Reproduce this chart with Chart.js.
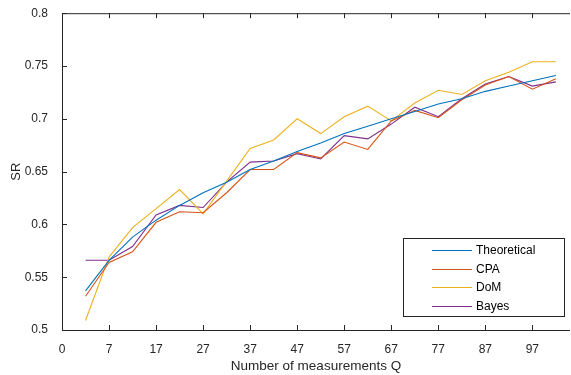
<!DOCTYPE html>
<html>
<head>
<meta charset="utf-8">
<script src="https://cdn.jsdelivr.net/npm/chart.js@4/dist/chart.umd.min.js"></script>
<style>
  html, body { margin: 0; padding: 0; background: #fff; }
  #wrap { width: 571px; height: 375px; }
</style>
</head>
<body>
<div id="wrap"><canvas id="srChart" width="571" height="375"></canvas></div>
<script>
// measurement positions (axis units) and their tick labels
const qValues = [5, 10, 15, 20, 25, 30, 35, 40, 45, 50, 55, 60, 65, 70, 75, 80, 85, 90, 95, 100, 105];
const xTickLabels = ['0', '7', '17', '27', '37', '47', '57', '67', '77', '87', '97'];
const yTickLabels = ['0.5', '0.55', '0.6', '0.65', '0.7', '0.75', '0.8'];

const theoretical = [0.537, 0.566, 0.588, 0.604, 0.618, 0.630, 0.640, 0.652, 0.660, 0.669, 0.677, 0.686, 0.693, 0.700, 0.707, 0.714, 0.719, 0.726, 0.731, 0.736, 0.741];
const cpa         = [0.532, 0.564, 0.574, 0.602, 0.612, 0.611, 0.630, 0.652, 0.652, 0.668, 0.663, 0.678, 0.671, 0.698, 0.708, 0.701, 0.718, 0.732, 0.740, 0.728, 0.738];
const dom         = [0.509, 0.569, 0.597, 0.615, 0.633, 0.610, 0.641, 0.672, 0.680, 0.700, 0.686, 0.702, 0.712, 0.698, 0.715, 0.727, 0.723, 0.736, 0.744, 0.754, 0.754];
const bayes       = [0.566, 0.566, 0.579, 0.609, 0.618, 0.616, 0.640, 0.659, 0.660, 0.667, 0.662, 0.684, 0.681, 0.695, 0.711, 0.702, 0.719, 0.733, 0.740, 0.731, 0.735];

const seriesNames = ['Theoretical', 'CPA', 'DoM', 'Bayes'];
const seriesColors = ['#0072BD', '#D95319', '#EDB120', '#7E2F8E'];
const seriesData = [theoretical, cpa, dom, bayes];

const AXIS_COLOR = '#262626';
const FONT = 'Liberation Sans, Arial, sans-serif';

// box, inward ticks and legend in the MATLAB style
const matlabAxes = {
    id: 'matlabAxes',
    afterDatasetsDraw(chart) {
        const { ctx, chartArea: a, scales } = chart;
        const tick = 5;
        ctx.save();
        ctx.strokeStyle = AXIS_COLOR;
        ctx.lineWidth = 1;
        ctx.beginPath();
        ctx.moveTo(a.right, a.top + 0.5);
        ctx.lineTo(a.left + 0.5, a.top + 0.5);
        ctx.lineTo(a.left + 0.5, a.bottom + 0.5);
        ctx.lineTo(a.right, a.bottom + 0.5);
        scales.x.ticks.forEach(t => {
            const px = Math.round(scales.x.getPixelForValue(t.value)) + 0.5;
            ctx.moveTo(px, a.bottom);
            ctx.lineTo(px, a.bottom - tick);
            ctx.moveTo(px, a.top);
            ctx.lineTo(px, a.top + tick);
        });
        scales.y.ticks.forEach(t => {
            const py = Math.round(scales.y.getPixelForValue(t.value)) + 0.5;
            ctx.moveTo(a.left, py);
            ctx.lineTo(a.left + tick, py);
        });
        ctx.stroke();

        // legend
        const box = { x: 403.5, y: 238.5, w: 161, h: 78 };
        ctx.fillStyle = '#fff';
        ctx.fillRect(box.x, box.y, box.w, box.h);
        ctx.strokeRect(box.x, box.y, box.w, box.h);
        ctx.font = '12px ' + FONT;
        ctx.textBaseline = 'middle';
        chart.data.datasets.forEach((ds, i) => {
            const y = 250 + i * 18.7;
            ctx.strokeStyle = ds.borderColor;
            ctx.beginPath();
            ctx.moveTo(432, Math.round(y) + 0.5);
            ctx.lineTo(472, Math.round(y) + 0.5);
            ctx.stroke();
            ctx.fillStyle = '#000';
            ctx.fillText(ds.label, 476, y + 0.5);
        });
        ctx.restore();
    }
};

const ctx = document.getElementById('srChart').getContext('2d');
new Chart(ctx, {
    type: 'line',
    data: {
        datasets: seriesNames.map((name, i) => ({
            label: name,
            data: qValues.map((q, j) => ({ x: q, y: seriesData[i][j] })),
            borderColor: seriesColors[i],
            backgroundColor: seriesColors[i],
            borderWidth: 1.1,
            pointRadius: 0,
            tension: 0,
            fill: false
        }))
    },
    options: {
        responsive: false,
        animation: false,
        layout: { padding: { top: 11, right: 1, left: 0, bottom: 0 } },
        plugins: {
            legend: { display: false },
            tooltip: { enabled: false }
        },
        scales: {
            x: {
                type: 'linear',
                min: 0,
                max: 108,
                afterBuildTicks: (scale) => {
                    scale.ticks = xTickLabels.map((_, i) => ({ value: i * 10 }));
                },
                afterFit: (scale) => { scale.height = 45; },
                grid: { display: false },
                border: { display: false },
                ticks: {
                    color: AXIS_COLOR,
                    font: { family: FONT, size: 12 },
                    padding: 4,
                    maxRotation: 0,
                    autoSkip: false,
                    callback: (value, index) => xTickLabels[index]
                },
                title: {
                    display: true,
                    text: 'Number of measurements Q',
                    color: AXIS_COLOR,
                    font: { family: FONT, size: 13.5 },
                    padding: { top: 0, bottom: 1 }
                }
            },
            y: {
                min: 0.5,
                max: 0.8,
                afterBuildTicks: (scale) => {
                    scale.ticks = yTickLabels.map(v => ({ value: parseFloat(v) }));
                },
                afterFit: (scale) => { scale.width = 62; },
                grid: { display: false },
                border: { display: false },
                ticks: {
                    color: AXIS_COLOR,
                    font: { family: FONT, size: 12 },
                    padding: 6,
                    callback: (value, index) => yTickLabels[index]
                },
                title: {
                    display: true,
                    text: 'SR',
                    color: AXIS_COLOR,
                    font: { family: FONT, size: 13 },
                    padding: { top: 9, bottom: 0 }
                }
            }
        }
    },
    plugins: [matlabAxes]
});
</script>
</body>
</html>
